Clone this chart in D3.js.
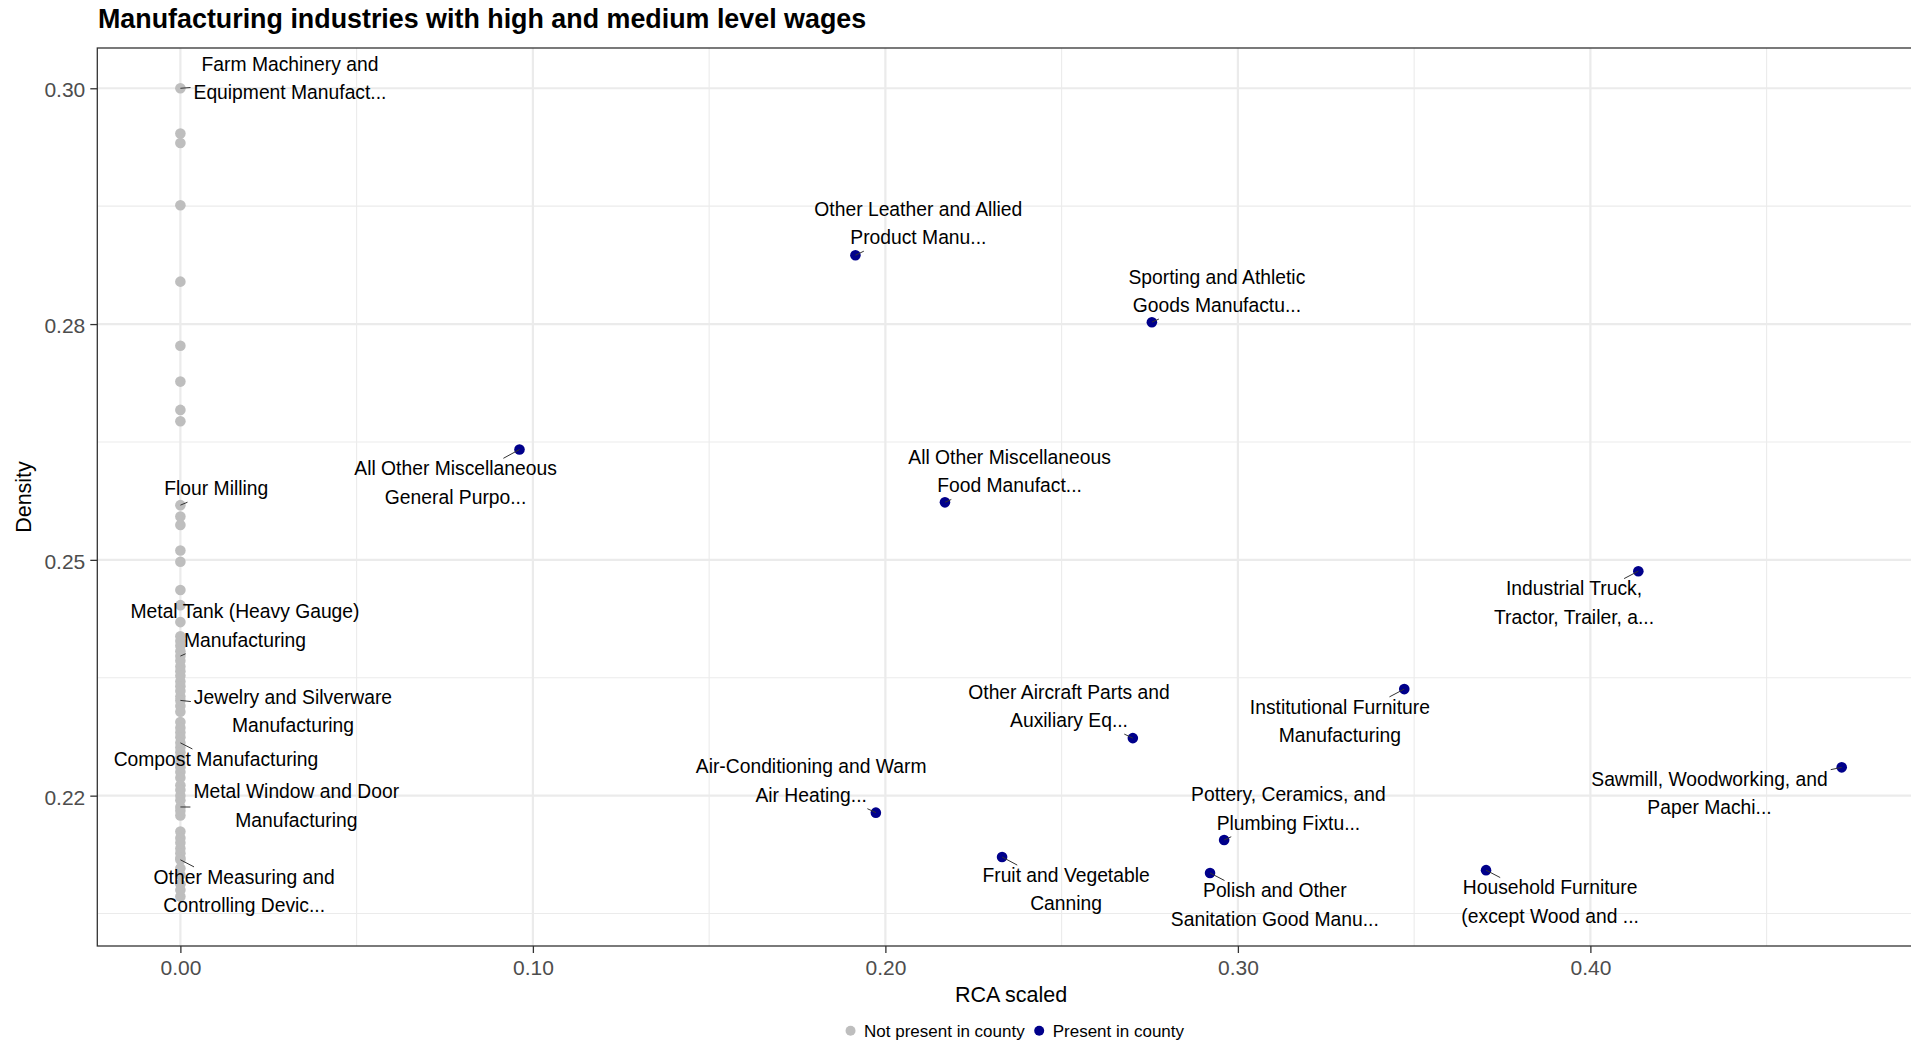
<!DOCTYPE html>
<html><head><meta charset="utf-8">
<script src="https://cdn.jsdelivr.net/npm/d3@7"></script>
<style>
html,body{margin:0;padding:0;background:#fff;overflow:hidden;}
svg{display:block;font-family:"Liberation Sans", Arial, Helvetica, sans-serif;}
</style></head><body>
<svg id="chart" width="1911" height="1040"></svg>
<script>
// ---------------- DATA ----------------
const chartTitle = "Manufacturing industries with high and medium level wages";
const xAxisTitle = "RCA scaled";
const yAxisTitle = "Density";
const xTickValues = [0, 0.1, 0.2, 0.3, 0.4];
const xTickLabels = ["0.00", "0.10", "0.20", "0.30", "0.40"];
const xMinorValues = [0.05, 0.15, 0.25, 0.35, 0.45];
const yTickValues = [0.225, 0.25, 0.275, 0.30];
const yTickLabels = ["0.22", "0.25", "0.28", "0.30"];
const yMinorValues = [0.2125, 0.2375, 0.2625, 0.2875];
const legendLabels = ["Not present in county", "Present in county"];

// Present in county (labelled)
const presentNames = [
  "Other Leather and Allied\nProduct Manu...",
  "Sporting and Athletic\nGoods Manufactu...",
  "All Other Miscellaneous\nGeneral Purpo...",
  "All Other Miscellaneous\nFood Manufact...",
  "Industrial Truck,\nTractor, Trailer, a...",
  "Institutional Furniture\nManufacturing",
  "Other Aircraft Parts and\nAuxiliary Eq...",
  "Sawmill, Woodworking, and\nPaper Machi...",
  "Air-Conditioning and Warm\nAir Heating...",
  "Pottery, Ceramics, and\nPlumbing Fixtu...",
  "Fruit and Vegetable\nCanning",
  "Household Furniture\n(except Wood and ...",
  "Polish and Other\nSanitation Good Manu..."
];
const presentRCA = [0.1915, 0.2756, 0.0962, 0.2169, 0.4136, 0.3472, 0.2702, 0.4713, 0.1973, 0.2961, 0.2331, 0.3704, 0.2921];
const presentDensity = [0.2823, 0.2752, 0.2617, 0.2561, 0.2488, 0.2363, 0.2311, 0.2280, 0.2232, 0.2203, 0.2185, 0.2171, 0.2168];

// Not present in county (RCA = 0), labelled ones
const absentNames = [
  "Farm Machinery and\nEquipment Manufact...",
  "Flour Milling",
  "Metal Tank (Heavy Gauge)\nManufacturing",
  "Jewelry and Silverware\nManufacturing",
  "Compost Manufacturing",
  "Metal Window and Door\nManufacturing",
  "Other Measuring and\nControlling Devic..."
];
const absentLabelledDensity = [0.3000, 0.2558, 0.2398, 0.2351, 0.2306, 0.2238, 0.2182];
// Not present in county, unlabelled
const absentOtherDensity = [
  0.2952, 0.2942, 0.2876, 0.2795, 0.2727, 0.2689, 0.2659, 0.2647,
  0.2546, 0.2537, 0.2510, 0.2498, 0.2468, 0.2452, 0.2434,
  0.2419, 0.2414, 0.2409, 0.2403, 0.2393, 0.2387, 0.2382, 0.2377, 0.2371, 0.2366, 0.2361, 0.2355, 0.2345, 0.2339,
  0.2328, 0.2322, 0.2317, 0.2312, 0.2301, 0.2296, 0.2291, 0.2285, 0.2280, 0.2275, 0.2269,
  0.2261, 0.2256, 0.2250, 0.2245, 0.2234, 0.2229,
  0.2212, 0.2205, 0.2200, 0.2194, 0.2189, 0.2184, 0.2173, 0.2166, 0.2156, 0.2150, 0.2143
];

// ---------------- LAYOUT (label placement offsets in px, from the point) ----------------
const labelOffsets = {
  "Farm Machinery and\nEquipment Manufact...": [109.6, -17.3],
  "Flour Milling": [35.9, -10],
  "Metal Tank (Heavy Gauge)\nManufacturing": [64.6, -37.7],
  "Jewelry and Silverware\nManufacturing": [112.6, 3.3],
  "Compost Manufacturing": [35.6, 23],
  "Metal Window and Door\nManufacturing": [115.9, -8.7],
  "Other Measuring and\nControlling Devic...": [63.8, 24],
  "Other Leather and Allied\nProduct Manu...": [62.9, -39.4],
  "Sporting and Athletic\nGoods Manufactu...": [65, -38.5],
  "All Other Miscellaneous\nGeneral Purpo...": [-63.9, 25.7],
  "All Other Miscellaneous\nFood Manufact...": [64.6, -38.2],
  "Other Aircraft Parts and\nAuxiliary Eq...": [-63.8, -39.4],
  "Air-Conditioning and Warm\nAir Heating...": [-64.7, -39.3],
  "Fruit and Vegetable\nCanning": [64, 25],
  "Pottery, Ceramics, and\nPlumbing Fixtu...": [64.3, -38.6],
  "Polish and Other\nSanitation Good Manu...": [64.8, 24.4],
  "Institutional Furniture\nManufacturing": [-64.4, 24.7],
  "Industrial Truck,\nTractor, Trailer, a...": [-64.3, 24.3],
  "Sawmill, Woodworking, and\nPaper Machi...": [-132.2, 18.3],
  "Household Furniture\n(except Wood and ...": [64.1, 24.3]
};

const COL_ABSENT = "#BEBEBE";
const COL_PRESENT = "#00008B";
const panel = {left: 97.3, right: 1924.8, top: 48, bottom: 946};

const svg = d3.select("#chart");
const x = d3.scaleLinear().domain([-0.02357, 0.49487]).range([panel.left, panel.right]);
const y = d3.scaleLinear().domain([0.20906, 0.30427]).range([panel.bottom, panel.top]);

// title
svg.append("text").attr("x", 98).attr("y", 28).attr("font-size", 26.85).attr("font-weight", "bold")
  .attr("fill", "#000").text(chartTitle);

// gridlines
const grid = svg.append("g");
grid.selectAll(".xminor").data(xMinorValues).join("line")
  .attr("x1", d => x(d)).attr("x2", d => x(d)).attr("y1", panel.top).attr("y2", panel.bottom)
  .attr("stroke", "#EBEBEB").attr("stroke-width", 1.1);
grid.selectAll(".yminor").data(yMinorValues).join("line")
  .attr("y1", d => y(d)).attr("y2", d => y(d)).attr("x1", panel.left).attr("x2", panel.right)
  .attr("stroke", "#EBEBEB").attr("stroke-width", 1.1);
grid.selectAll(".xmajor").data(xTickValues).join("line")
  .attr("x1", d => x(d)).attr("x2", d => x(d)).attr("y1", panel.top).attr("y2", panel.bottom)
  .attr("stroke", "#EBEBEB").attr("stroke-width", 2.2);
grid.selectAll(".ymajor").data(yTickValues).join("line")
  .attr("y1", d => y(d)).attr("y2", d => y(d)).attr("x1", panel.left).attr("x2", panel.right)
  .attr("stroke", "#EBEBEB").attr("stroke-width", 2.2);

// points
const absentAll = absentOtherDensity.map(d => ({rca: 0, density: d}))
  .concat(absentLabelledDensity.map((d, i) => ({rca: 0, density: d, name: absentNames[i]})));
const present = presentRCA.map((r, i) => ({rca: r, density: presentDensity[i], name: presentNames[i]}));

svg.append("g").selectAll("circle").data(absentAll).join("circle")
  .attr("cx", d => x(d.rca)).attr("cy", d => y(d.density)).attr("r", 5.3).attr("fill", COL_ABSENT);
svg.append("g").selectAll("circle").data(present).join("circle")
  .attr("cx", d => x(d.rca)).attr("cy", d => y(d.density)).attr("r", 5.3).attr("fill", COL_PRESENT);

// labels + segments
const labelled = absentAll.filter(d => d.name).concat(present);
const segG = svg.append("g");
const labG = svg.append("g");
const FS = 19.3, LH = 28.3;
labelled.forEach(d => {
  const px = x(d.rca), py = y(d.density);
  const off = labelOffsets[d.name];
  const cx = px + off[0], by = py + off[1];
  const lines = d.name.split("\n");
  const t = labG.append("text").attr("font-size", FS).attr("fill", "#000").attr("text-anchor", "middle");
  let maxW = 0;
  lines.forEach((ln, i) => {
    const ts = t.append("tspan").attr("x", cx).attr("y", by + i * LH).text(ln);
    maxW = Math.max(maxW, ts.node().getComputedTextLength());
  });
  const pad = 3;
  const bx0 = cx - maxW / 2 - pad, bx1 = cx + maxW / 2 + pad;
  const by0 = by - 0.72 * FS - pad, by1 = by + (lines.length - 1) * LH + 0.21 * FS + pad;
  const lcx = cx, lcy = (by0 + by1) / 2;
  const dx = lcx - px, dy = lcy - py;
  let tmin = 1;
  if (dx !== 0) {
    [bx0, bx1].forEach(bx => { const tt = (bx - px) / dx; const yy = py + tt * dy; if (tt > 0 && tt < tmin && yy >= by0 - 0.01 && yy <= by1 + 0.01) tmin = tt; });
  }
  if (dy !== 0) {
    [by0, by1].forEach(bb => { const tt = (bb - py) / dy; const xx = px + tt * dx; if (tt > 0 && tt < tmin && xx >= bx0 - 0.01 && xx <= bx1 + 0.01) tmin = tt; });
  }
  const ex = px + tmin * dx, ey = py + tmin * dy;
  if (Math.hypot(ex - px, ey - py) > 4) {
    segG.append("line").attr("x1", px).attr("y1", py).attr("x2", ex).attr("y2", ey)
      .attr("stroke", "#333").attr("stroke-width", 1);
  }
});

// panel border
svg.append("rect").attr("x", panel.left).attr("y", panel.top)
  .attr("width", panel.right - panel.left).attr("height", panel.bottom - panel.top)
  .attr("fill", "none").attr("stroke", "#333333").attr("stroke-width", 1.3);

// axes
const xAxis = d3.axisBottom(x).tickValues(xTickValues).tickFormat((d, i) => xTickLabels[i]).tickSize(7).tickPadding(7);
const gx = svg.append("g").attr("transform", `translate(0,${panel.bottom})`).call(xAxis);
gx.select(".domain").remove();
gx.selectAll(".tick line").attr("stroke", "#333333").attr("stroke-width", 1.3);
gx.selectAll(".tick text").attr("font-size", 21).attr("fill", "#4D4D4D").attr("font-family", "Liberation Sans, Arial, sans-serif");

const yAxis = d3.axisLeft(y).tickValues(yTickValues).tickFormat((d, i) => yTickLabels[i]).tickSize(7).tickPadding(5);
const gy = svg.append("g").attr("transform", `translate(${panel.left},0)`).call(yAxis);
gy.select(".domain").remove();
gy.selectAll(".tick line").attr("stroke", "#333333").attr("stroke-width", 1.3);
gy.selectAll(".tick text").attr("font-size", 21).attr("fill", "#4D4D4D").attr("dy", "0.4em").attr("font-family", "Liberation Sans, Arial, sans-serif");

// axis titles
svg.append("text").attr("x", (panel.left + panel.right) / 2).attr("y", 1002).attr("text-anchor", "middle")
  .attr("font-size", 21.5).attr("fill", "#000").text(xAxisTitle);
svg.append("text").attr("transform", `translate(31,${(panel.top + panel.bottom) / 2}) rotate(-90)`)
  .attr("text-anchor", "middle").attr("font-size", 21.5).attr("fill", "#000").text(yAxisTitle);

// legend
const legG = svg.append("g");
const legCols = [COL_ABSENT, COL_PRESENT];
const LFS = 17;
const widths = legendLabels.map(l => {
  const t = legG.append("text").attr("font-size", LFS).text(l);
  const w = t.node().getComputedTextLength(); t.remove(); return w;
});
const itemW = widths.map(w => 15 + w);
const gap = 13;
const total = itemW[0] + gap + itemW[1];
let lx = (panel.left + panel.right) / 2 - total / 2 + 2;
legendLabels.forEach((l, i) => {
  legG.append("circle").attr("cx", lx + 5).attr("cy", 1030.7).attr("r", 5).attr("fill", legCols[i]);
  legG.append("text").attr("x", lx + 18.5).attr("y", 1036.7).attr("font-size", LFS).attr("fill", "#000").text(l);
  lx += itemW[i] + gap;
});
</script>
</body></html>
